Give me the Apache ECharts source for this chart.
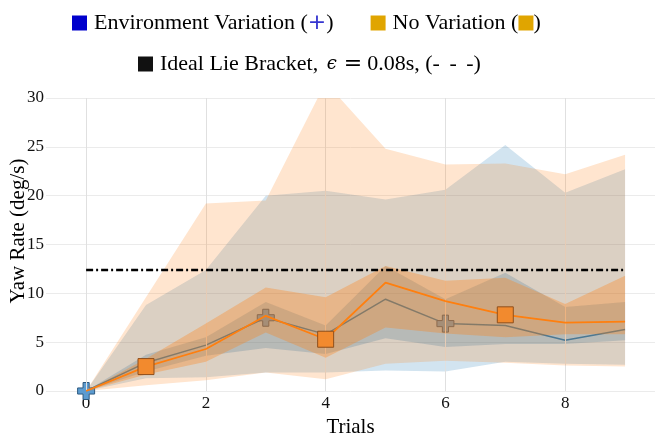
<!DOCTYPE html>
<html>
<head>
<meta charset="utf-8">
<script src="https://cdn.jsdelivr.net/npm/echarts@6/dist/echarts.min.js"></script>
<style>
  html, body { margin: 0; padding: 0; background: #fff; }
  #chart { width: 656px; height: 435px; }
</style>
</head>
<body>
<div id="chart"></div>
<script>
const trials = [0, 1, 2, 3, 4, 5, 6, 7, 8, 9];
const xTicks = [0, 2, 4, 6, 8];

// Environment Variation
const envMean = [0, 2.9, 4.7, 7.5, 5.8, 9.4, 6.9, 6.7, 5.2, 6.3];
const envOuterLow = [0, 1.3, 1.4, 1.9, 1.9, 2.1, 2.0, 3.0, 2.8, 2.7];
const envOuterHigh = [0, 8.8, 12.4, 20.0, 20.5, 19.6, 20.6, 25.2, 20.3, 22.7];
const envInnerLow = [0, 2.0, 3.6, 4.4, 3.8, 5.4, 4.5, 4.8, 4.8, 5.2];
const envInnerHigh = [0, 3.7, 5.5, 9.1, 6.7, 12.8, 9.4, 12.1, 8.6, 9.1];
const envMarkers = [0, 3, 6];

// No Variation
const noMean = [0, 2.5, 4.3, 7.7, 5.3, 11.1, 9.2, 7.8, 7.0, 7.1];
const noOuterLow = [0, 0.6, 1.1, 1.9, 1.2, 2.8, 3.1, 2.9, 2.6, 2.5];
const noOuterHigh = [0, 9.6, 19.2, 19.5, 31.6, 24.8, 23.2, 23.3, 22.2, 24.2];
const noInnerLow = [0, 1.7, 3.0, 6.0, 3.4, 6.5, 5.9, 5.5, 5.8, 5.8];
const noInnerHigh = [0, 3.3, 6.9, 10.6, 9.6, 12.8, 11.3, 11.6, 8.9, 11.8];
const noMarkers = [1, 4, 7];

// Ideal Lie Bracket
const idealX = [0, 9];
const idealY = [12.4, 12.4];

const plusPath = "path://M3.2,0 H6.8 V3.2 H10 V6.8 H6.8 V10 H3.2 V6.8 H0 V3.2 H3.2 Z";
const serif = "Liberation Serif, Times New Roman, serif";

function pts(xs, ys) {
  return xs.map((x, i) => [x, ys[i]]);
}

// shaded band between low and high, drawn as one polygon
function band(name, low, high, color, z) {
  return {
    name: name,
    type: "custom",
    clip: true,
    silent: true,
    z: z,
    data: trials.map((x, i) => [x, low[i], high[i]]),
    encode: { x: 0, y: [1, 2] },
    renderItem: (params, api) => {
      if (params.dataIndex !== 0) return;
      const top = trials.map((x, i) => api.coord([x, high[i]]));
      const bottom = trials.map((x, i) => api.coord([x, low[i]])).reverse();
      return {
        type: "polygon",
        shape: { points: top.concat(bottom) },
        style: { fill: color },
      };
    },
  };
}

const chart = echarts.init(document.getElementById("chart"));
chart.setOption({
  animation: false,
  grid: {
    left: 46,
    right: 1,
    top: 98,
    bottom: 44,
    containLabel: false,
    outerBoundsMode: "none",
  },
  legend: [
    {
      left: 72,
      top: 12,
      itemWidth: 15,
      itemHeight: 15,
      itemGap: 37,
      padding: 0,
      selectedMode: false,
      data: [
        {
          name: "Environment Variation",
          icon: "rect",
          itemStyle: { color: "#0000cc", borderWidth: 0 },
        },
        {
          name: "No Variation",
          icon: "rect",
          itemStyle: { color: "#e0a500", borderWidth: 0 },
        },
      ],
      formatter: (n) =>
        n === "Environment Variation" ? n + " ({p|+})" : n + " ({s|\u00a0})",
      textStyle: {
        fontFamily: serif,
        fontSize: 22,
        color: "#000",
        padding: [0, 0, 0, 2],
        rich: {
          p: { fontFamily: "DejaVu Sans", fontSize: 22, color: "#3535d0" },
          s: { backgroundColor: "#e0a500", width: 15, height: 15 },
        },
      },
    },
    {
      left: 138,
      top: 53,
      itemWidth: 15,
      itemHeight: 15,
      padding: 0,
      selectedMode: false,
      data: [
        {
          name: "Ideal Lie Bracket",
          icon: "rect",
          itemStyle: { color: "#111", borderWidth: 0 },
        },
      ],
      formatter: () => "Ideal Lie Bracket, {e|\u03f5}{q|=}0.08s, (-{g| }-{g| }-)",
      textStyle: {
        fontFamily: serif,
        fontSize: 22,
        color: "#000",
        padding: [0, 0, 0, 2],
        rich: {
          e: {
            fontFamily: "DejaVu Serif",
            fontStyle: "italic",
            fontSize: 18,
            color: "#000",
            padding: [0, 2, 0, 3],
          },
          q: {
            fontFamily: "DejaVu Serif",
            fontSize: 22,
            color: "#000",
            padding: [0, 5, 0, 5],
          },
          g: { fontFamily: serif, fontSize: 22, color: "#000", padding: [0, 2, 0, 2] },
        },
      },
    },
  ],
  xAxis: {
    type: "value",
    min: -0.67,
    max: 9.5,
    name: "Trials",
    nameLocation: "middle",
    nameGap: 21,
    nameTextStyle: { fontFamily: serif, fontSize: 21, color: "#000" },
    axisLine: { show: false },
    axisTick: { show: false },
    splitLine: { show: false },
    axisLabel: {
      customValues: xTicks,
      margin: 4,
      fontFamily: serif,
      fontSize: 17,
      color: "#111",
    },
  },
  yAxis: {
    type: "value",
    min: 0,
    max: 30,
    interval: 5,
    axisLine: { show: false },
    axisTick: { show: false },
    splitLine: { lineStyle: { color: "#ebebeb", width: 1 } },
    axisLabel: { margin: 2, fontFamily: serif, fontSize: 17, color: "#111" },
  },
  graphic: [
    {
      type: "text",
      x: 18,
      y: 231,
      rotation: Math.PI / 2,
      style: {
        text: "Yaw Rate (deg/s)",
        fontFamily: serif,
        fontSize: 21,
        fill: "#000",
        align: "center",
        verticalAlign: "middle",
      },
    },
  ],
  series: [
    {
      name: "gridX",
      type: "line",
      data: [],
      silent: true,
      z: 1,
      markLine: {
        silent: true,
        symbol: "none",
        label: { show: false },
        lineStyle: { color: "#e0e0e0", width: 1, type: "solid" },
        data: xTicks.map((v) => ({ xAxis: v })),
      },
    },
    band("envOuter", envOuterLow, envOuterHigh, "rgba(31,119,180,0.2)", 2),
    band("envInner", envInnerLow, envInnerHigh, "rgba(31,119,180,0.25)", 3),
    {
      name: "Environment Variation",
      type: "line",
      z: 4,
      data: pts(trials, envMean),
      symbol: (v, p) => (envMarkers.includes(p.dataIndex) ? plusPath : "none"),
      symbolSize: 17,
      showAllSymbol: true,
      lineStyle: { color: "#1f77b4", width: 1.5 },
      itemStyle: { color: "#5b9bd0", borderColor: "#2e5a80", borderWidth: 1 },
    },
    band("noOuter", noOuterLow, noOuterHigh, "rgba(255,127,14,0.2)", 5),
    band("noInner", noInnerLow, noInnerHigh, "rgba(255,127,14,0.32)", 6),
    {
      name: "No Variation",
      type: "line",
      z: 7,
      data: pts(trials, noMean),
      symbol: (v, p) => (noMarkers.includes(p.dataIndex) ? "rect" : "none"),
      symbolSize: 16,
      showAllSymbol: true,
      lineStyle: { color: "#ff7f0e", width: 1.8 },
      itemStyle: { color: "#f28a2e", borderColor: "#8f4f1c", borderWidth: 1 },
    },
    {
      name: "Ideal Lie Bracket",
      type: "line",
      z: 8,
      data: pts(idealX, idealY),
      symbol: "none",
      lineStyle: { color: "#000", width: 2.5, type: [7, 3, 2, 3] },
    },
  ],
});
</script>
</body>
</html>
